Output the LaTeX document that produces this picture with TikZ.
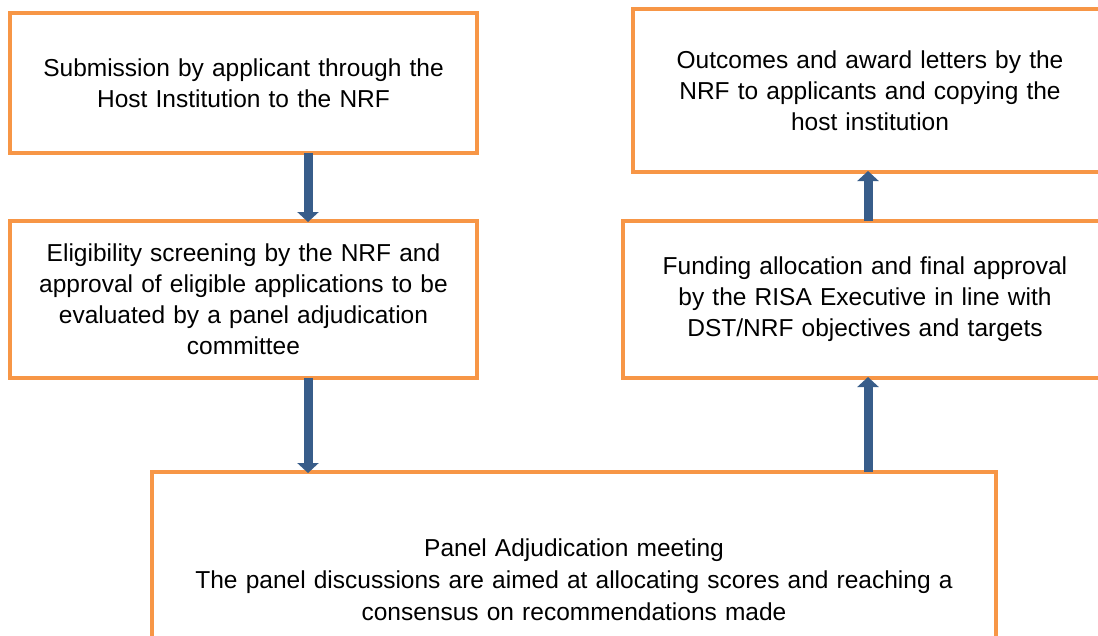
\documentclass[tikz,border=0pt]{standalone}
\usepackage{fontspec}
\setmainfont{Liberation Sans}
\usetikzlibrary{arrows.meta}
\definecolor{boxorange}{HTML}{F79646}
\definecolor{arrowblue}{HTML}{385D8A}
\begin{document}
\begin{tikzpicture}[x=1pt,y=-1pt,
  box/.style={draw=boxorange, line width=4pt, fill=white, inner sep=0pt, outer sep=0pt,
    align=center, font=\fontsize{24.5}{31}\selectfont},
  flow/.style={draw=arrowblue, line width=9pt, -{Triangle[width=21pt,length=10pt]}, shorten >=-1pt}
]
\useasboundingbox (0,0) rectangle (1098,635);
\clip (0,0) rectangle (1098,635);
\node[box, minimum width=467pt, minimum height=140pt, text width=450pt] (b1) at (243.5,83)
  {\raisebox{-3pt}{\parbox{450pt}{\centering Submission by applicant through the\\Host Institution to the NRF}}};
\node[box, minimum width=467pt, minimum height=157pt, text width=450pt] (b2) at (243.5,299.5)
  {Eligibility screening by the NRF and\\approval of eligible applications to be\\evaluated by a panel adjudication\\committee};
\node[box, minimum width=474pt, minimum height=163pt, text width=450pt] (b3) at (870,90.5)
  {Outcomes and award letters by the\\NRF to applicants and copying the\\host institution};
\node[box, minimum width=484pt, minimum height=157pt, text width=450pt] (b4) at (865,299.5)
  {Funding allocation and final approval\\by the RISA Executive in line with\\DST/NRF objectives and targets};
\node[box, minimum width=844pt, minimum height=216pt, text width=830pt, font=\fontsize{24.5}{32}\selectfont] (b5) at (574,580)
  {Panel Adjudication meeting\\The panel discussions are aimed at allocating scores and reaching a\\consensus on recommendations made};
\coordinate (xl) at (308,0);
\coordinate (xr) at (868,0);
\draw[flow] (b1.south -| xl) -- (b2.north -| xl);
\draw[flow] (b2.south -| xl) -- (b5.north -| xl);
\draw[flow] (b5.north -| xr) -- (b4.south -| xr);
\draw[flow] (b4.north -| xr) -- (b3.south -| xr);
\end{tikzpicture}
\end{document}
